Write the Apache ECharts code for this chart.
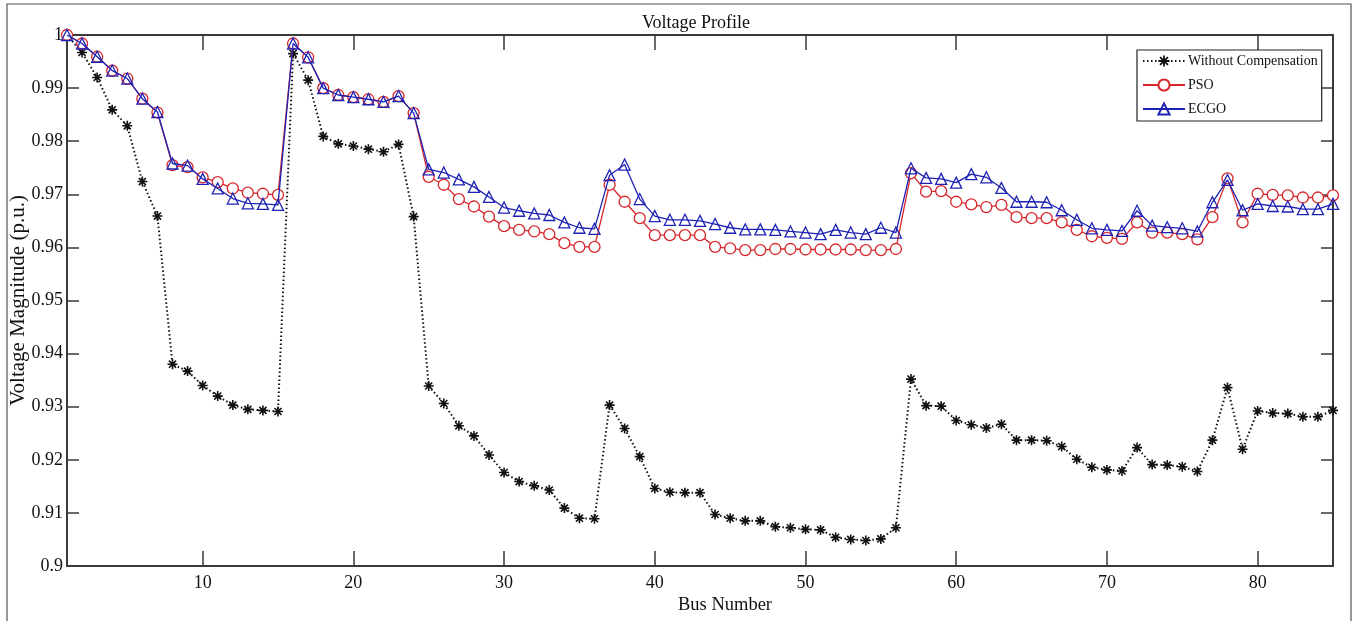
<!DOCTYPE html>
<html>
<head>
<meta charset="utf-8">
<script src="https://cdn.jsdelivr.net/npm/echarts@6/dist/echarts.min.js"></script>
<style>
html,body{margin:0;padding:0;background:#fff;}
#chart{width:1353px;height:621px;}
</style>
</head>
<body>
<div id="chart"></div>
<script>
const busNumbers = Array.from({length: 85}, (_, i) => i + 1);
const xTicks = [10, 20, 30, 40, 50, 60, 70, 80];

const withoutCompensation = [
  1.0000, 0.9967, 0.9920, 0.9859, 0.9829, 0.9724, 0.9659, 0.9380, 0.9367, 0.9340,
  0.9320, 0.9303, 0.9295, 0.9293, 0.9291, 0.9965, 0.9915, 0.9809, 0.9795, 0.9791,
  0.9785, 0.9780, 0.9794, 0.9658, 0.9339, 0.9306, 0.9264, 0.9245, 0.9209, 0.9176,
  0.9159, 0.9151, 0.9143, 0.9109, 0.9090, 0.9089, 0.9303, 0.9259, 0.9206, 0.9146,
  0.9139, 0.9138, 0.9138, 0.9097, 0.9090, 0.9085, 0.9085, 0.9074, 0.9072, 0.9069,
  0.9068, 0.9054, 0.9050, 0.9048, 0.9051, 0.9072, 0.9352, 0.9302, 0.9301, 0.9274,
  0.9266, 0.9260, 0.9267, 0.9237, 0.9237, 0.9236, 0.9225, 0.9201, 0.9186, 0.9181,
  0.9179, 0.9223, 0.9191, 0.9190, 0.9187, 0.9178, 0.9237, 0.9336, 0.9220, 0.9292,
  0.9288, 0.9287, 0.9281, 0.9281, 0.9293
];

const psoValues = [
  1.0000, 0.9984, 0.9959, 0.9933, 0.9918, 0.9880, 0.9854, 0.9755, 0.9751, 0.9732,
  0.9723, 0.9711, 0.9703, 0.9701, 0.9699, 0.9984, 0.9958, 0.9900, 0.9887, 0.9883,
  0.9879, 0.9874, 0.9885, 0.9853, 0.9733, 0.9718, 0.9691, 0.9677, 0.9658, 0.9640,
  0.9633, 0.9630, 0.9625, 0.9608, 0.9601, 0.9601, 0.9718, 0.9686, 0.9655, 0.9623,
  0.9623, 0.9623, 0.9623, 0.9601, 0.9598, 0.9595, 0.9595, 0.9597, 0.9597, 0.9596,
  0.9596, 0.9596, 0.9596, 0.9595, 0.9595, 0.9597, 0.9740, 0.9705, 0.9706, 0.9686,
  0.9681, 0.9676, 0.9680, 0.9657, 0.9655, 0.9655, 0.9647, 0.9633, 0.9621, 0.9618,
  0.9616, 0.9647, 0.9628, 0.9628, 0.9625, 0.9615, 0.9657, 0.9730, 0.9647, 0.9701,
  0.9699, 0.9698, 0.9694, 0.9694, 0.9698
];

const ecgoValues = [
  1.0000, 0.9984, 0.9959, 0.9933, 0.9918, 0.9880, 0.9855, 0.9758, 0.9754, 0.9729,
  0.9711, 0.9692, 0.9683, 0.9682, 0.9680, 0.9984, 0.9958, 0.9900, 0.9887, 0.9883,
  0.9879, 0.9874, 0.9885, 0.9853, 0.9747, 0.9741, 0.9728, 0.9714, 0.9695, 0.9675,
  0.9669, 0.9664, 0.9661, 0.9647, 0.9637, 0.9635, 0.9736, 0.9756, 0.9691, 0.9659,
  0.9652, 0.9652, 0.9650, 0.9644, 0.9637, 0.9634, 0.9634, 0.9633, 0.9630, 0.9628,
  0.9625, 0.9633, 0.9628, 0.9625, 0.9637, 0.9628, 0.9749, 0.9731, 0.9729, 0.9722,
  0.9738, 0.9732, 0.9712, 0.9686, 0.9686, 0.9685, 0.9670, 0.9652, 0.9636, 0.9633,
  0.9631, 0.9669, 0.9641, 0.9638, 0.9636, 0.9630, 0.9685, 0.9727, 0.9670, 0.9682,
  0.9678, 0.9677, 0.9672, 0.9672, 0.9682
];

const pair = (vals) => vals.map((v, i) => [busNumbers[i], v]);

const asterisk = 'path://M-1.6,-10 L1.6,-10 L1.6,10 L-1.6,10 Z M-10,-1.6 L10,-1.6 L10,1.6 L-10,1.6 Z ' +
  'M-5.94,-8.2 L8.2,5.94 L5.94,8.2 L-8.2,-5.94 Z M5.94,-8.2 L8.2,-5.94 L-5.94,8.2 L-8.2,5.94 Z';

const FONT = '"Liberation Serif", "DejaVu Serif", serif';
const axisColor = '#3a3a3a';

const chart = echarts.init(document.getElementById('chart'));
chart.setOption({
  backgroundColor: '#ffffff',
  animation: false,
  textStyle: { fontFamily: FONT },
  graphic: [{
    type: 'rect',
    shape: { x: 7, y: 4, width: 1344, height: 640 },
    style: { fill: 'none', stroke: '#555', lineWidth: 1.2 },
    silent: true, z: -1
  }],
  title: {
    text: 'Voltage Profile',
    left: 691, top: 9, textAlign: 'center',
    textStyle: { fontFamily: FONT, fontSize: 18, fontWeight: 'normal', color: '#111' }
  },
  legend: {
    orient: 'vertical',
    left: 1137, top: 50,
    width: 186,
    padding: [4, 4, 5, 5],
    itemWidth: 42, itemHeight: 14, itemGap: 10,
    backgroundColor: '#fff',
    borderColor: '#222', borderWidth: 1.2,
    textStyle: { fontFamily: FONT, fontSize: 14, color: '#111', padding: [0, 0, 0, -2] },
    data: ['Without Compensation', 'PSO', 'ECGO']
  },
  grid: { left: 67, right: 20, top: 35, bottom: 55, containLabel: false, outerBoundsMode: 'none' },
  xAxis: [{
    type: 'value', min: 1, max: 85,
    name: 'Bus Number', nameLocation: 'middle', nameGap: 30, nameMoveOverlap: false,
    nameTextStyle: { fontFamily: FONT, fontSize: 18.5, color: '#111', padding: [0, 0, 0, 50] },
    axisLine: { lineStyle: { color: axisColor, width: 2 } },
    axisTick: { inside: true, length: 15, customValues: xTicks, lineStyle: { color: axisColor, width: 1.5 } },
    axisLabel: { customValues: xTicks, fontFamily: FONT, fontSize: 18, color: '#111', margin: 8 },
    splitLine: { show: false }
  }, {
    type: 'value', min: 1, max: 85, position: 'top',
    axisLine: { lineStyle: { color: axisColor, width: 2 } },
    axisTick: { inside: true, length: 15, customValues: xTicks, lineStyle: { color: axisColor, width: 1.5 } },
    axisLabel: { show: false },
    splitLine: { show: false }
  }],
  yAxis: [{
    type: 'value', min: 0.9, max: 1.0, interval: 0.01,
    name: 'Voltage Magnitude (p.u.)', nameLocation: 'middle', nameGap: 38, nameMoveOverlap: false,
    nameTextStyle: { fontFamily: FONT, fontSize: 21, color: '#111' },
    axisLine: { lineStyle: { color: axisColor, width: 2 } },
    axisTick: { inside: true, length: 12, lineStyle: { color: axisColor, width: 1.5 } },
    axisLabel: { fontFamily: FONT, fontSize: 18, color: '#111', margin: 4,
      formatter: v => String(+v.toFixed(2)) },
    splitLine: { show: false }
  }, {
    type: 'value', min: 0.9, max: 1.0, interval: 0.01, position: 'right',
    axisLine: { show: true, lineStyle: { color: axisColor, width: 2 } },
    axisTick: { show: true, inside: true, length: 12, lineStyle: { color: axisColor, width: 1.5 } },
    axisLabel: { show: false },
    splitLine: { show: false }
  }],
  series: [{
    name: 'Without Compensation', type: 'line',
    data: pair(withoutCompensation),
    symbol: asterisk, symbolSize: 10,
    itemStyle: { color: '#111' },
    lineStyle: { color: '#111', width: 2, type: [1.5, 2.5] },
    z: 2
  }, {
    name: 'PSO', type: 'line',
    data: pair(psoValues),
    symbol: 'circle', symbolSize: 11,
    itemStyle: { color: '#fff', borderColor: '#d8262b', borderWidth: 1.3 },
    lineStyle: { color: '#d8262b', width: 1.3 },
    z: 3
  }, {
    name: 'ECGO', type: 'line',
    data: pair(ecgoValues),
    symbol: 'triangle', symbolSize: [11, 11],
    itemStyle: { color: 'rgba(255,255,255,0)', borderColor: '#1e22b4', borderWidth: 1.3 },
    lineStyle: { color: '#1e22b4', width: 1.3 },
    z: 4
  }]
});
</script>
</body>
</html>
